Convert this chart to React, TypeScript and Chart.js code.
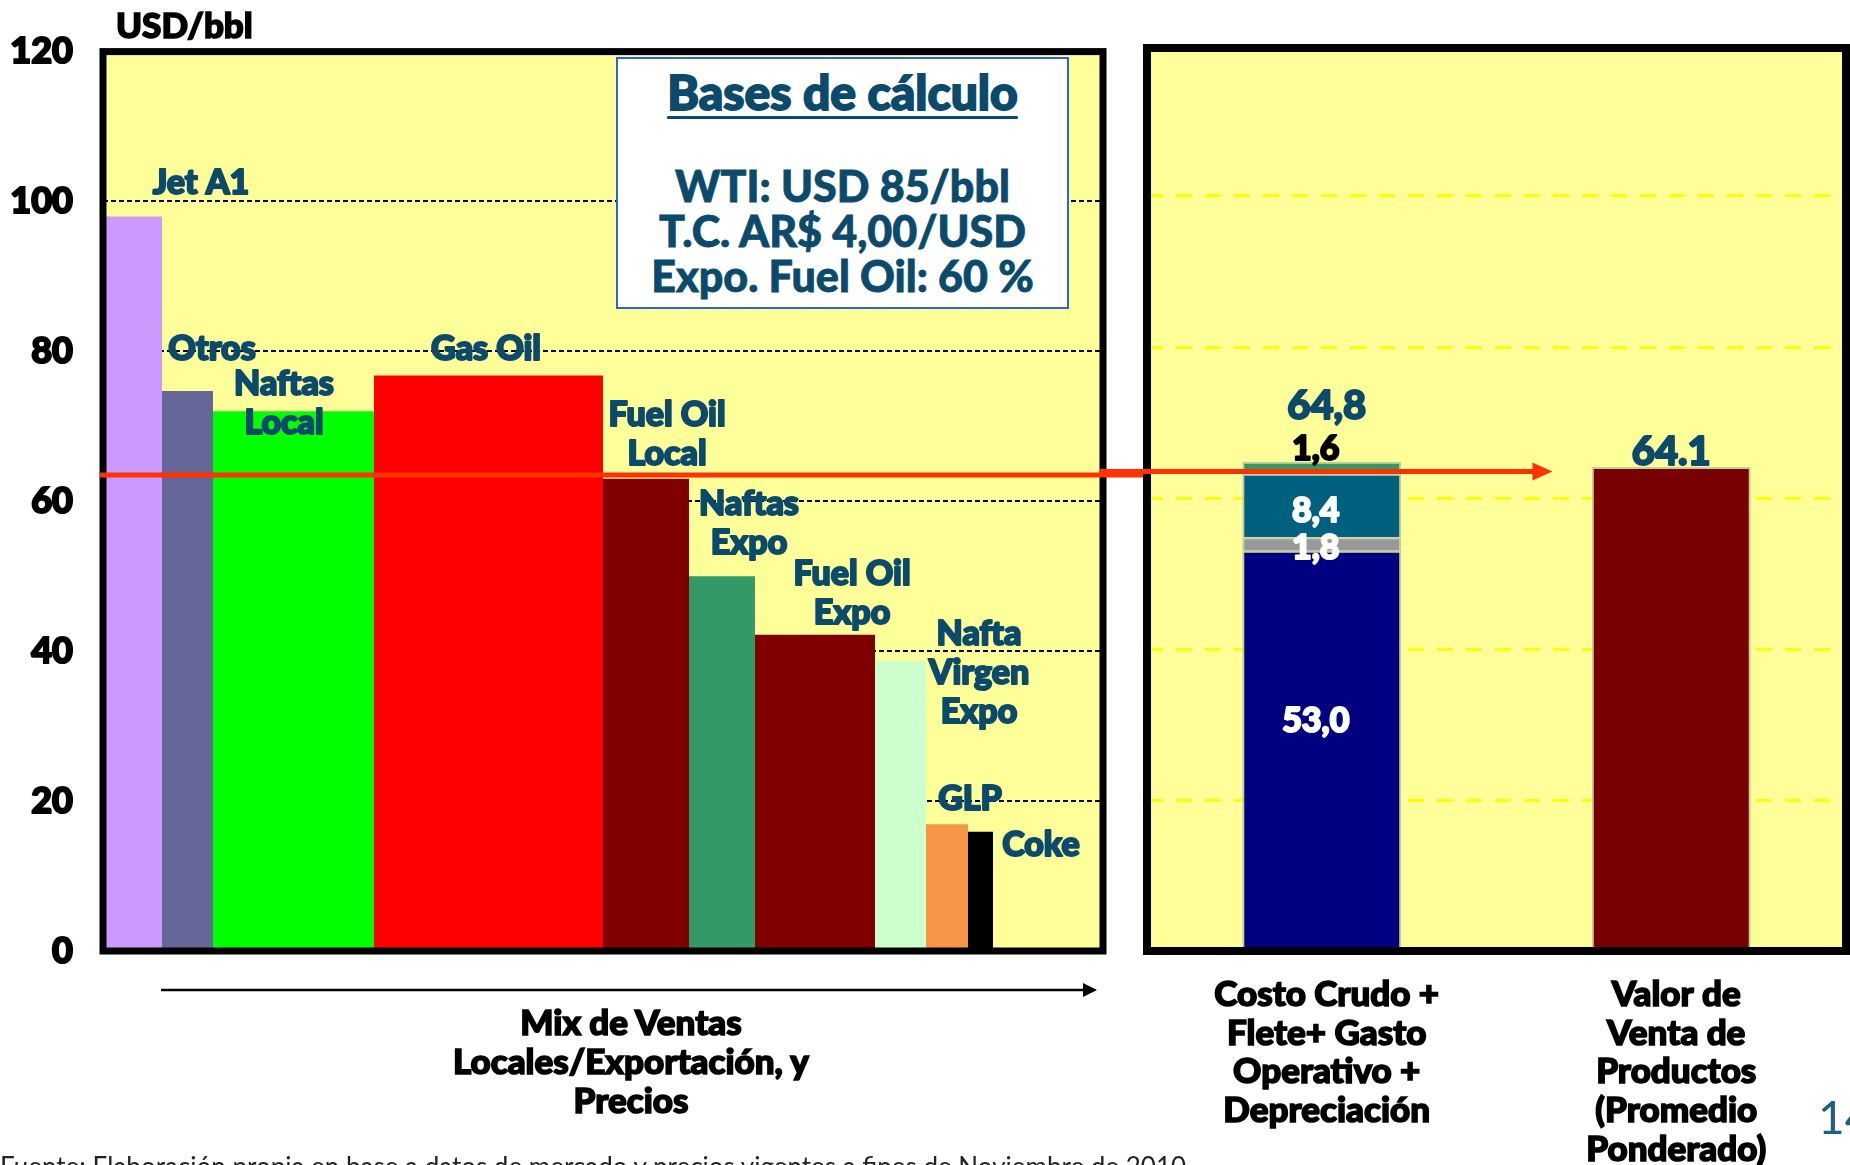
import React, { useEffect, useRef } from 'react';
import { Chart, registerables } from 'chart.js';

Chart.register(...registerables);

const FONT = "Lato, 'DejaVu Sans', sans-serif";
const W = 900;
const TEAL_TEXT = '#0B4A6B';
const PLOT_BG = '#FFFF99';
const STROKE = 2;

// ---------- Left panel: sales mix (bar width = share of volume, height = price) ----------
const PRODUCTS = ['Jet A1', 'Otros', 'Naftas\nLocal', 'Gas Oil', 'Fuel Oil\nLocal', 'Naftas\nExpo', 'Fuel Oil\nExpo', 'Nafta\nVirgen\nExpo', 'GLP', 'Coke'];
const MIX_SHARE = [5.9, 5.1, 16.1, 22.9, 8.6, 6.6, 12.0, 5.1, 4.2, 2.5];
const PRICES = [98.0, 74.7, 72.0, 76.8, 63.0, 50.0, 42.2, 38.7, 16.9, 15.9];
const PRODUCT_COLORS = ['#CC99FF', '#666699', '#00FF00', '#FF0000', '#800000', '#339966', '#800000', '#CCFFCC', '#F79646', '#000000'];
const Y_TICKS = [0, 20, 40, 60, 80, 100, 120];
const AVG_PRICE_LINE = 63.5;

// label anchors (data units: mix %, USD/bbl)
const LABEL_ANCHORS = [[9.8, 102.4], [10.9, 80.3], [18.1, 75.6], [38.3, 80.3], [56.4, 71.5], [64.6, 59.7], [74.9, 50.3], [87.6, 42.3], [86.7, 20.3], [93.8, 14.2]];
const MIX_ARROW = [5.8, 99.4];

// ---------- Right panel ----------
const RIGHT_CATEGORIES = [
  ['Costo Crudo +', 'Flete+ Gasto', 'Operativo +', 'Depreciación'],
  ['Valor de', 'Venta de', 'Productos', '(Promedio', 'Ponderado)'],
];
const COST_PARTS = ['Costo Crudo', 'Flete', 'Gasto Operativo', 'Depreciación'];
const COST_VALUES = [53.0, 1.8, 8.4, 1.6];
const COST_LABELS = ['53,0', '1,8', '8,4', '1,6'];
const COST_COLORS = ['#000080', '#999999', '#006080', '#339966'];
const COST_LABEL_COLORS = ['#FFFFFF', '#FFFFFF', '#FFFFFF', '#000000'];
const COST_LABEL_Y = [30.5, 53.4, 58.3, 66.5];
const COST_TOTAL_LABEL = '64,8';
const COST_TOTAL_LABEL_Y = 72.2;
const SALES_VALUE = 64.1;
const SALES_LABEL = '64.1';
const SALES_LABEL_Y = 66.1;
const ARROW_END = 0.66; // on the category scale

const RED = '#FF3300';

function strokePanel(chart: any, lw: number, topShift = 0) {
  const { ctx, chartArea: a } = chart;
  ctx.save();
  ctx.strokeStyle = '#000';
  ctx.lineWidth = lw;
  ctx.strokeRect(a.left, a.top + topShift, a.right - a.left, a.bottom - a.top - topShift);
  ctx.restore();
}

function heavyText(ctx: any, t: string, x: number, y: number, color: string) {
  ctx.fillStyle = color;
  ctx.strokeStyle = color;
  ctx.lineWidth = STROKE;
  ctx.lineJoin = 'round';
  ctx.strokeText(t, x, y);
  ctx.fillText(t, x, y);
}

const leftPlugin = {
  id: 'leftDecor',
  beforeDraw(chart: any) {
    const { ctx, chartArea: a } = chart;
    ctx.save();
    ctx.fillStyle = PLOT_BG;
    ctx.fillRect(a.left, a.top, a.right - a.left, a.bottom - a.top);
    ctx.restore();
  },
  afterDatasetsDraw(chart: any) {
    const { ctx } = chart;
    const x = chart.scales.x, y = chart.scales.y;
    ctx.save();
    ctx.font = `${W} 34px ${FONT}`;
    ctx.textAlign = 'center';
    ctx.textBaseline = 'middle';
    PRODUCTS.forEach((name, i) => {
      const px = x.getPixelForValue(LABEL_ANCHORS[i][0]);
      const py = y.getPixelForValue(LABEL_ANCHORS[i][1]);
      name.split('\n').forEach((line, k) => heavyText(ctx, line, px, py + k * 39, TEAL_TEXT));
    });
    ctx.restore();
  },
  afterDraw(chart: any) {
    const { ctx, chartArea: a } = chart;
    const x = chart.scales.x, y = chart.scales.y;
    strokePanel(chart, 7);
    // average price line
    const yp = y.getPixelForValue(AVG_PRICE_LINE);
    ctx.save();
    ctx.strokeStyle = RED;
    ctx.lineWidth = 5;
    ctx.beginPath();
    ctx.moveTo(a.left - 3, yp);
    ctx.lineTo(chart.width, yp);
    ctx.stroke();
    // mix arrow below the panel
    const ya = a.bottom + 39;
    const x0 = x.getPixelForValue(MIX_ARROW[0]);
    const x1 = x.getPixelForValue(MIX_ARROW[1]);
    ctx.strokeStyle = '#000';
    ctx.fillStyle = '#000';
    ctx.lineWidth = 2.5;
    ctx.beginPath();
    ctx.moveTo(x0, ya);
    ctx.lineTo(x1 - 12, ya);
    ctx.stroke();
    ctx.beginPath();
    ctx.moveTo(x1 - 14, ya - 7);
    ctx.lineTo(x1, ya);
    ctx.lineTo(x1 - 14, ya + 7);
    ctx.closePath();
    ctx.fill();
    ctx.restore();
  },
};

const rightPlugin = {
  id: 'rightDecor',
  beforeDraw(chart: any) {
    const { ctx, chartArea: a } = chart;
    ctx.save();
    ctx.fillStyle = PLOT_BG;
    ctx.fillRect(a.left, a.top, a.right - a.left, a.bottom - a.top);
    ctx.restore();
  },
  afterDatasetsDraw(chart: any) {
    const { ctx } = chart;
    const x = chart.scales.x, y = chart.scales.y;
    const c0 = x.getPixelForValue(0), c1 = x.getPixelForValue(1);
    ctx.save();
    ctx.textAlign = 'center';
    ctx.textBaseline = 'middle';
    ctx.font = `${W} 34px ${FONT}`;
    COST_LABELS.forEach((t, i) => {
      heavyText(ctx, t, c0 - 6, y.getPixelForValue(COST_LABEL_Y[i]), COST_LABEL_COLORS[i]);
    });
    ctx.font = `${W} 40px ${FONT}`;
    heavyText(ctx, COST_TOTAL_LABEL, c0 + 5, y.getPixelForValue(COST_TOTAL_LABEL_Y), TEAL_TEXT);
    heavyText(ctx, SALES_LABEL, c1, y.getPixelForValue(SALES_LABEL_Y), TEAL_TEXT);
    ctx.restore();
  },
  afterDraw(chart: any) {
    const { ctx } = chart;
    const x = chart.scales.x, y = chart.scales.y;
    strokePanel(chart, 8, 3);
    const yp = y.getPixelForValue(AVG_PRICE_LINE);
    const tip = x.getPixelForValue(ARROW_END);
    ctx.save();
    ctx.strokeStyle = RED;
    ctx.fillStyle = RED;
    ctx.lineWidth = 5;
    ctx.beginPath();
    ctx.moveTo(0, yp);
    ctx.lineTo(tip - 18, yp);
    ctx.stroke();
    ctx.beginPath();
    ctx.moveTo(tip - 20, yp - 9);
    ctx.lineTo(tip, yp);
    ctx.lineTo(tip - 20, yp + 9);
    ctx.closePath();
    ctx.fill();
    ctx.restore();
  },
};

function leftConfig(): any {
  let edge = 0;
  const bars = PRICES.map((p, i) => {
    const x0 = edge;
    const x1 = edge + MIX_SHARE[i];
    edge = x1;
    return {
      type: 'line',
      label: PRODUCTS[i].replace(/\n/g, ' '),
      data: [{ x: x0, y: p }, { x: x1, y: p }],
      fill: 'origin',
      backgroundColor: PRODUCT_COLORS[i],
      borderColor: 'rgba(0,0,0,0)',
      borderWidth: 1,
      pointRadius: 0,
      tension: 0,
    };
  });
  return {
    type: 'line',
    data: { datasets: bars },
    options: {
      animation: false,
      responsive: false,
      events: [],
      layout: { padding: { top: 45, right: 44, bottom: 214, left: 0 } },
      plugins: { legend: { display: false }, tooltip: { enabled: false } },
      scales: {
        x: { type: 'linear', min: 0, max: 100, display: false },
        y: {
          min: Y_TICKS[0],
          max: Y_TICKS[Y_TICKS.length - 1],
          afterBuildTicks: (s: any) => { s.ticks = Y_TICKS.map((v) => ({ value: v })); },
          ticks: {
            color: '#000',
            font: { family: FONT, size: 36, weight: W },
            textStrokeColor: '#000',
            textStrokeWidth: 2,
            padding: 30,
            callback: (v: any) => String(v),
          },
          grid: {
            drawTicks: false,
            lineWidth: 2,
            color: (c: any) => (c.tick && (c.tick.value === 0 || c.tick.value === 120) ? 'rgba(0,0,0,0)' : '#000'),
          },
          border: { display: false, dash: [5, 3] },
          afterFit: (s: any) => { s.width = 103; },
        },
      },
    },
    plugins: [leftPlugin],
  };
}

function rightConfig(): any {
  const costSets = COST_VALUES.map((v, i) => ({
    label: COST_PARTS[i],
    data: [v, null],
    backgroundColor: COST_COLORS[i],
    borderColor: '#C8CBA0',
    borderWidth: 2,
  }));
  const salesSet = {
    label: 'Valor de Venta',
    data: [null, SALES_VALUE],
    backgroundColor: '#770000',
    borderColor: '#C8CBA0',
    borderWidth: 2,
  };
  return {
    type: 'bar',
    data: { labels: RIGHT_CATEGORIES, datasets: [...costSets, salesSet] },
    options: {
      animation: false,
      responsive: false,
      events: [],
      barPercentage: 0.455,
      categoryPercentage: 1,
      layout: { padding: { top: 45, right: 4, bottom: 0, left: 47 } },
      plugins: { legend: { display: false }, tooltip: { enabled: false } },
      scales: {
        x: {
          stacked: true,
          offset: true,
          ticks: {
            color: '#000',
            font: { family: FONT, size: 35, weight: W, lineHeight: 1.11 },
            textStrokeColor: '#000',
            textStrokeWidth: 1.6,
            padding: 24,
            labelOffset: 5,
            maxRotation: 0,
            autoSkip: false,
          },
          grid: { display: false, drawTicks: false },
          border: { display: false },
          afterFit: (s: any) => { s.height = 214; },
        },
        y: {
          stacked: true,
          min: 0,
          max: 120,
          afterBuildTicks: (s: any) => { s.ticks = Y_TICKS.map((v) => ({ value: v })); },
          ticks: { display: false },
          grid: {
            drawTicks: false,
            lineWidth: 3,
            color: (c: any) => (c.tick && (c.tick.value === 0 || c.tick.value === 120) ? 'rgba(0,0,0,0)' : '#FFFF00'),
          },
          border: { display: false, dash: [16, 13] },
          afterFit: (s: any) => { s.width = 0; },
        },
      },
    },
    plugins: [rightPlugin],
  };
}

export default function App() {
  const leftRef = useRef<HTMLCanvasElement>(null);
  const rightRef = useRef<HTMLCanvasElement>(null);

  useEffect(() => {
    document.body.style.margin = '0';
    document.body.style.overflow = 'hidden';
    Chart.defaults.font.family = FONT;
    const left = new Chart(leftRef.current as HTMLCanvasElement, leftConfig());
    const right = new Chart(rightRef.current as HTMLCanvasElement, rightConfig());
    return () => {
      left.destroy();
      right.destroy();
    };
  }, []);

  const heavy = (c: string, w = 1.4): React.CSSProperties => ({ WebkitTextStroke: `${w}px ${c}` } as React.CSSProperties);

  const boxLine: React.CSSProperties = {
    position: 'absolute', left: 0, width: '100%', textAlign: 'center',
    fontFamily: FONT, fontWeight: W, fontSize: 43, lineHeight: '44px', color: TEAL_TEXT, whiteSpace: 'nowrap',
    ...heavy(TEAL_TEXT, 0.8),
  };

  return (
    <div style={{ position: 'absolute', left: 0, top: 0, width: 1850, height: 1165, overflow: 'hidden', background: '#fff' }}>
      <canvas ref={leftRef} width={1147} height={1165} style={{ position: 'absolute', left: 0, top: 0 }} />
      <canvas ref={rightRef} width={750} height={1165} style={{ position: 'absolute', left: 1100, top: 0 }} />

      <div style={{ position: 'absolute', left: 116, top: 7, fontFamily: FONT, fontWeight: W, fontSize: 35, lineHeight: '35px', color: '#000', whiteSpace: 'nowrap', ...heavy('#000', 1.6) }}>
        USD/bbl
      </div>

      <div style={{ position: 'absolute', left: 616, top: 57, width: 453, height: 252, boxSizing: 'border-box', border: '2px solid #2F62D6', background: '#fff' }}>
        <div style={{ ...boxLine, top: 11, fontSize: 48, ...heavy(TEAL_TEXT, 1.8), textDecoration: 'underline', textDecorationThickness: 3, textUnderlineOffset: 6 }}>Bases de cálculo</div>
        <div style={{ ...boxLine, top: 105 }}>WTI: USD 85/bbl</div>
        <div style={{ ...boxLine, top: 150 }}>T.C. AR$ 4,00/USD</div>
        <div style={{ ...boxLine, top: 195 }}>Expo. Fuel Oil: 60 %</div>
      </div>

      <div style={{ position: 'absolute', left: 331, top: 1002, width: 600, textAlign: 'center', fontFamily: FONT, fontWeight: W, fontSize: 35, lineHeight: '39px', color: '#000', ...heavy('#000', 1.6) }}>
        Mix de Ventas<br />Locales/Exportación, y<br />Precios
      </div>

      <div style={{ position: 'absolute', left: 0, top: 1153, fontFamily: FONT, fontSize: 26, lineHeight: '26px', color: '#222', whiteSpace: 'nowrap' }}>
        Fuente: Elaboración propia en base a datos de mercado y precios vigentes a fines de Noviembre de 2010
      </div>

      <div style={{ position: 'absolute', left: 1818, top: 1094, fontFamily: FONT, fontSize: 46, lineHeight: '46px', color: '#1F5F7F', whiteSpace: 'nowrap' }}>
        14
      </div>
    </div>
  );
}
